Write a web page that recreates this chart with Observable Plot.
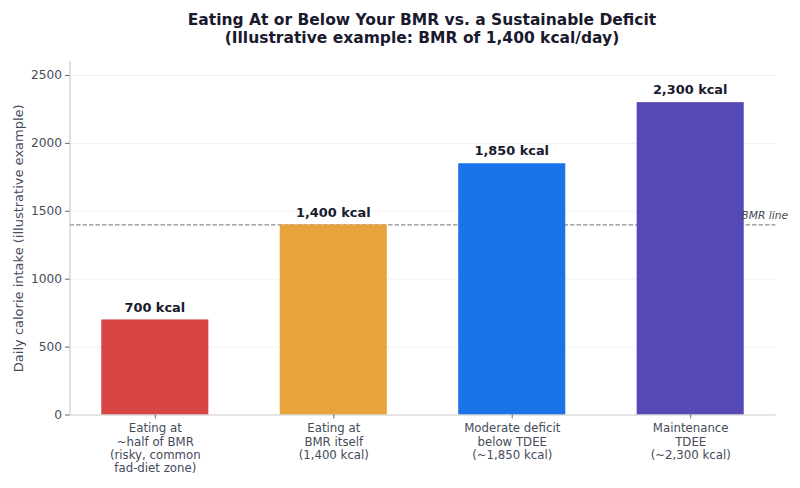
<!DOCTYPE html>
<html>
<head>
<meta charset="utf-8">
<script src="https://cdn.jsdelivr.net/npm/d3@7"></script>
<script src="https://cdn.jsdelivr.net/npm/@observablehq/plot@0.6"></script>
<style>
html,body{margin:0;padding:0;background:#fff;}
#title{position:absolute;left:44px;width:756px;top:12px;text-align:center;font:bold 15.5px/17.6px "DejaVu Sans",sans-serif;color:#1a1a2e;}
#chart{position:absolute;left:0;top:50px;}
svg{display:block;}
</style>
</head>
<body>
<div id="title">Eating At or Below Your BMR vs. a Sustainable Deficit<br>(Illustrative example: BMR of 1,400 kcal/day)</div>
<div id="chart"></div>
<script>
const categories = [
  "Eating at\n~half of BMR\n(risky, common\nfad-diet zone)",
  "Eating at\nBMR itself\n(1,400 kcal)",
  "Moderate deficit\nbelow TDEE\n(~1,850 kcal)",
  "Maintenance\nTDEE\n(~2,300 kcal)"
];
const calories = [700, 1400, 1850, 2300];
const valueLabels = ["700 kcal", "1,400 kcal", "1,850 kcal", "2,300 kcal"];
const barColors = ["#d94545", "#e8a33d", "#1a73e8", "#5549b8"];
const yTicks = [0, 500, 1000, 1500, 2000, 2500];
const bmr = 1400;
const bmrLabel = ["BMR line"];
const yTitle = ["Daily calorie intake (illustrative example)"];

const rows = categories.map((c, i) => ({c, v: calories[i], label: valueLabels[i], color: barColors[i]}));
const ink = "#444b5a";
const font = '"DejaVu Sans", sans-serif';

const plot = Plot.plot({
  width: 800, height: 438,
  marginLeft: 69.5, marginRight: 24.5, marginTop: 11, marginBottom: 73.5,
  style: {fontFamily: font, background: "#fff", overflow: "visible"},
  x: {domain: categories, paddingInner: 0.4, paddingOuter: 0.178, round: false, label: null},
  y: {domain: [0, 2603], label: null},
  marks: [
    Plot.ruleY(yTicks.slice(1), {stroke: "#f2f2f4", strokeWidth: 1}),
    Plot.ruleY([bmr], {stroke: "#8f8f8f", strokeWidth: 1.1, strokeDasharray: "4.5,2"}),
    Plot.barY(rows, {x: "c", y: "v", fill: "color"}),
    Plot.frame({anchor: "left", stroke: "#c9c9c9", strokeWidth: 1.1}),
    Plot.ruleY([0], {stroke: "#c9c9c9", strokeWidth: 1.2}),
    Plot.axisY({ticks: yTicks, tickSize: 4.5, stroke: "#666", fontSize: 12.2, fill: ink, tickPadding: 3.5,
      tickFormat: d => String(d), label: null}),
    Plot.axisX({tickSize: 4, stroke: "#666", fontSize: 11.75, fill: ink, lineHeight: 1.135, tickPadding: 4, label: null}),
    Plot.text(yTitle, {frameAnchor: "left", textAnchor: "middle", text: d => d, rotate: -90, dx: -51, fontSize: 13, fill: ink}),
    Plot.text(rows, {x: "c", y: "v", text: "label", dx: -0.5, dy: -12.5, fontWeight: "bold", fontSize: 12.9, fill: "#1a1a2e"}),
    Plot.text(bmrLabel, {y: [bmr], text: d => d, frameAnchor: "right", textAnchor: "end", dx: 12, dy: -9,
      fontStyle: "italic", fontSize: 10.7, fill: ink})
  ]
});
document.getElementById("chart").appendChild(plot);
</script>
</body>
</html>
